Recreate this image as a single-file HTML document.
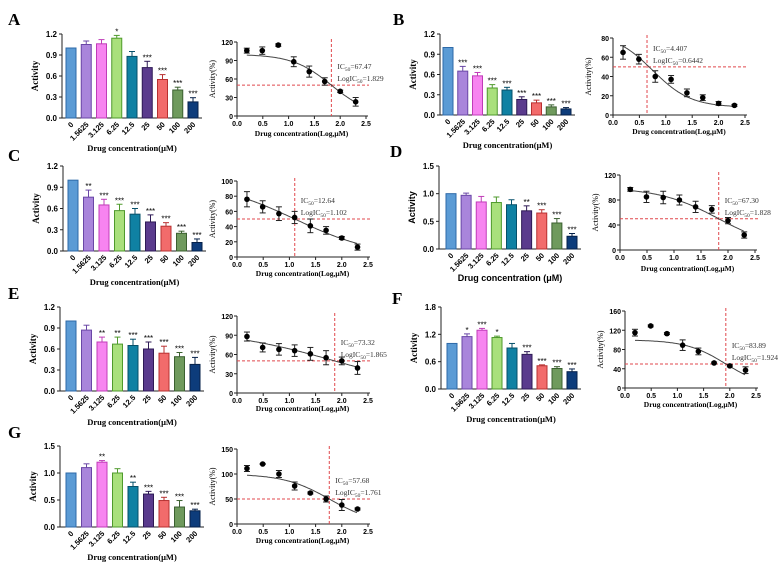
<!DOCTYPE html>
<html><head><meta charset="utf-8"><style>
html,body{margin:0;padding:0;background:#fff;}
svg{display:block;}
</style></head><body>
<svg id="s" width="779" height="570" viewBox="0 0 779 570" xmlns="http://www.w3.org/2000/svg">
<text x="8" y="25" font-family="Liberation Serif,serif" font-weight="bold" font-size="17">A</text>
<text x="393" y="25" font-family="Liberation Serif,serif" font-weight="bold" font-size="17">B</text>
<text x="8" y="161" font-family="Liberation Serif,serif" font-weight="bold" font-size="17">C</text>
<text x="390" y="157" font-family="Liberation Serif,serif" font-weight="bold" font-size="17">D</text>
<text x="8" y="299" font-family="Liberation Serif,serif" font-weight="bold" font-size="17">E</text>
<text x="392" y="304" font-family="Liberation Serif,serif" font-weight="bold" font-size="17">F</text>
<text x="8" y="438" font-family="Liberation Serif,serif" font-weight="bold" font-size="17">G</text>
</svg>
<script>
var S=document.getElementById('s'),out='';
var fills=['#5b9bd5','#a985db','#f784f0','#a9e07c','#0f81a3','#5a3b8d','#f26b6b','#6f9a5d','#0d3c7b'];
var strokes=['#2e6aa8','#6a47a6','#c03cb8','#4f9a2c','#06506a','#2e1a55','#b83030','#3b6030','#06214a'];
var cats=['0','1.5625','3.125','6.25','12.5','25','50','100','200'];
var LX=[0.19,0.49,0.80,1.10,1.40,1.70,2.0,2.3];
var SER='Liberation Serif,serif',SAN='Liberation Sans,sans-serif';
function fmt(v,st){var d=(st<1)?1:0;return v.toFixed(d);}
function P(p){
 var b=p.bar,c=p.cur;
 var sc=(b.y0-b.top)/b.max, tf=b.sans?SAN:SER;
 var xe=b.last+9;
 out+='<line x1="'+b.ax+'" y1="'+b.top+'" x2="'+b.ax+'" y2="'+b.y0+'" stroke="#222" stroke-width="1"/>';
 out+='<line x1="'+b.ax+'" y1="'+b.y0+'" x2="'+xe+'" y2="'+b.y0+'" stroke="#222" stroke-width="1"/>';
 for(var v=0;v<=b.max+1e-9;v+=b.st){var y=b.y0-v*sc;
  out+='<line x1="'+(b.ax-3)+'" y1="'+y+'" x2="'+b.ax+'" y2="'+y+'" stroke="#222"/>';
  out+='<text x="'+(b.ax-5)+'" y="'+(y+3)+'" text-anchor="end" font-family="'+SAN+'" font-weight="bold" font-size="8">'+fmt(v,b.st)+'</text>';}
 var sp=(b.last-b.first)/8;
 for(var i=0;i<9;i++){var cx=b.first+i*sp,h=b.v[i]*sc,y=b.y0-h,e=b.e[i]*sc;
  if(e>0){out+='<line x1="'+cx+'" y1="'+y+'" x2="'+cx+'" y2="'+(y-e)+'" stroke="'+strokes[i]+'"/><line x1="'+(cx-3)+'" y1="'+(y-e)+'" x2="'+(cx+3)+'" y2="'+(y-e)+'" stroke="'+strokes[i]+'"/>';}
  out+='<rect x="'+(cx-5)+'" y="'+y+'" width="10" height="'+h+'" fill="'+fills[i]+'" stroke="'+strokes[i]+'" stroke-width="1"/>';
  if(b.s[i])out+='<text x="'+cx+'" y="'+(y-e-1)+'" text-anchor="middle" font-family="'+SAN+'" font-size="8">'+b.s[i]+'</text>';
  out+='<text transform="translate('+(cx+3)+','+(b.y0+7)+') rotate(-45)" text-anchor="end" font-family="'+SAN+'" font-weight="bold" font-size="7.5">'+cats[i]+'</text>';}
 out+='<text transform="translate('+(b.ax-24)+','+((b.top+b.y0)/2)+') rotate(-90)" text-anchor="middle" font-family="'+tf+'" font-weight="bold" font-size="9">Activity</text>';
 out+='<text x="'+((b.ax+xe)/2)+'" y="'+b.ty+'" text-anchor="middle" font-family="'+tf+'" font-weight="bold" font-size="'+(b.sans?9:8.5)+'">'+(b.sans?'Drug concentration (μM)':'Drug concentration(μM)')+'</text>';
 var ys=(c.y0-c.yt)/c.max,xs=(c.x25-c.ax)/2.5;
 function X(x){return c.ax+x*xs;} function Y(v){return c.y0-v*ys;}
 out+='<line x1="'+c.ax+'" y1="'+c.yt+'" x2="'+c.ax+'" y2="'+c.y0+'" stroke="#222"/>';
 out+='<line x1="'+c.ax+'" y1="'+c.y0+'" x2="'+(c.x25+2)+'" y2="'+c.y0+'" stroke="#222"/>';
 for(var v=0;v<=c.max;v+=c.st){var y=Y(v);
  out+='<line x1="'+(c.ax-3)+'" y1="'+y+'" x2="'+c.ax+'" y2="'+y+'" stroke="#222"/>';
  out+='<text x="'+(c.ax-4)+'" y="'+(y+3)+'" text-anchor="end" font-family="'+SAN+'" font-weight="bold" font-size="7">'+v+'</text>';}
 for(var k=0;k<=5;k++){var x=X(k*0.5);
  out+='<line x1="'+x+'" y1="'+c.y0+'" x2="'+x+'" y2="'+(c.y0+3)+'" stroke="#222"/>';
  out+='<text x="'+x+'" y="'+(c.y0+10)+'" text-anchor="middle" font-family="'+SAN+'" font-weight="bold" font-size="7">'+(k*0.5).toFixed(1)+'</text>';}
 out+='<text transform="translate('+(c.ax-22)+','+((c.yt+c.y0)/2)+') rotate(-90)" text-anchor="middle" font-family="'+SER+'" font-size="8">Activity(%)</text>';
 out+='<text x="'+((c.ax+c.x25)/2)+'" y="'+(c.ty+3)+'" text-anchor="middle" font-family="'+SER+'" font-weight="bold" font-size="7.5">Drug concentration(Log,μM)</text>';
 var vx=X(c.ic),hy=Y(50);
 out+='<line x1="'+vx+'" y1="'+(c.yt-3)+'" x2="'+vx+'" y2="'+c.y0+'" stroke="#e0474c" stroke-dasharray="3,2"/>';
 out+='<line x1="'+c.ax+'" y1="'+hy+'" x2="'+(c.x25+3)+'" y2="'+hy+'" stroke="#e0474c" stroke-dasharray="3,2"/>';
 var d='';for(var x=0.19;x<=2.301;x+=0.02){var v=c.b+(c.t-c.b)/(1+Math.pow(10,(x-c.c)*c.h));d+=(d?'L':'M')+X(x).toFixed(1)+','+Y(v).toFixed(1);}
 out+='<path d="'+d+'" fill="none" stroke="#444" stroke-width="1"/>';
 for(var i=0;i<8;i++){var x=X(LX[i]),y=Y(c.p[i]),e=c.e[i]*ys;
  if(e>0)out+='<line x1="'+x+'" y1="'+(y-e)+'" x2="'+x+'" y2="'+(y+e)+'" stroke="#222"/><line x1="'+(x-3)+'" y1="'+(y-e)+'" x2="'+(x+3)+'" y2="'+(y-e)+'" stroke="#222"/><line x1="'+(x-3)+'" y1="'+(y+e)+'" x2="'+(x+3)+'" y2="'+(y+e)+'" stroke="#222"/>';
  out+='<circle cx="'+x+'" cy="'+y+'" r="2.8" fill="#000"/>';}
 var tx=vx+6;
 out+='<text x="'+tx+'" y="'+(hy-16)+'" font-family="'+SER+'" font-size="7.5" fill="#333">IC<tspan font-size="5.5" dy="2">50</tspan><tspan dy="-2">='+c.icv+'</tspan></text>';
 out+='<text x="'+tx+'" y="'+(hy-4)+'" font-family="'+SER+'" font-size="7.5" fill="#333">LogIC<tspan font-size="5.5" dy="2">50</tspan><tspan dy="-2">='+c.ic+'</tspan></text>';
}
var A='***';
P({bar:{ax:62,top:34,y0:118,max:1.2,st:0.3,first:71,last:193,ty:151,v:[1,1.05,1.06,1.14,0.88,0.72,0.55,0.40,0.23],e:[0,.05,.06,.04,.07,.09,.07,.04,.06],s:['','','','*','',A,A,A,A]},
 cur:{ax:237,yt:42,y0:116,max:120,st:30,x25:366,ty:133,p:[106,106,115,88,72,56,40,23],e:[4,6,2,8,9,6,2,7],ic:1.829,icv:'67.47',t:100,b:0,c:1.829,h:1.16}});
P({bar:{ax:440,top:34,y0:115,max:1.2,st:0.3,first:448,last:566,ty:148,v:[1,.65,.58,.40,.37,.23,.18,.12,.09],e:[0,.07,.05,.05,.04,.04,.04,.03,.02],s:['',A,A,A,A,A,A,A,A]},
 cur:{ax:613,yt:38,y0:115,max:80,st:20,x25:745,ty:131,p:[65,58,40,37,23,18,12,10],e:[7,5,6,4,4,3,2,1],ic:0.6442,icv:'4.407',t:85,b:8,c:0.75,h:1.2}});
P({bar:{ax:63,top:166,y0:251,max:1.2,st:0.3,first:73,last:197,ty:285,v:[1,.76,.65,.57,.52,.41,.35,.25,.12],e:[0,.1,.08,.09,.08,.1,.05,.03,.05],s:['','**',A,A,A,A,A,A,A]},
 cur:{ax:237,yt:181,y0:257,max:100,st:20,x25:368,ty:273,p:[76,66,57,52,41,35,25,13],e:[10,8,9,8,9,5,2,4],ic:1.102,icv:'12.64',t:100,b:0,c:1.102,h:0.556}});
P({bar:{ax:439,top:166,y0:249,max:1.5,st:0.5,first:451,last:572,ty:281,sans:1,v:[1,.97,.85,.84,.80,.69,.65,.47,.23],e:[0,.04,.1,.1,.09,.09,.06,.08,.05],s:['','','','','','**',A,A,A]},
 cur:{ax:620,yt:175,y0:250,max:120,st:40,x25:755,ty:268,p:[97,85,84,80,69,65,47,24],e:[3,9,10,8,9,6,5,5],ic:1.828,icv:'67.30',t:100,b:0,c:1.828,h:0.786}});
P({bar:{ax:60,top:307,y0:391,max:1.2,st:0.3,first:71,last:195,ty:425,v:[1,.87,.70,.67,.65,.60,.54,.49,.38],e:[0,.07,.07,.1,.09,.1,.1,.06,.1],s:['','','**','**',A,A,A,A,A]},
 cur:{ax:237,yt:316,y0:393,max:120,st:30,x25:368,ty:408,p:[88,71,68,66,61,55,50,39],e:[7,7,9,9,10,11,6,10],ic:1.865,icv:'73.32',t:100,b:0,c:1.865,h:0.395}});
P({bar:{ax:441,top:307,y0:389,max:1.8,st:0.6,first:452,last:572,ty:422,v:[1,1.15,1.29,1.13,.90,.76,.51,.45,.38],e:[0,.06,.04,.03,.1,.06,.02,.04,.06],s:['','*',A,'*','',A,A,A,A]},
 cur:{ax:625,yt:311,y0:388,max:160,st:40,x25:756,ty:404,p:[115,129,113,89,76,52,46,37],e:[7,2,2,11,7,2,2,7],ic:1.924,icv:'83.89',t:100,b:0,c:1.924,h:1.15}});
P({bar:{ax:60,top:446,y0:527,max:1.5,st:0.5,first:71,last:195,ty:560,v:[1,1.10,1.20,1.0,.75,.61,.49,.37,.30],e:[0,.07,.03,.08,.08,.05,.06,.12,.03],s:['','','**','','**',A,A,A,A]},
 cur:{ax:237,yt:449,y0:524,max:150,st:50,x25:368,ty:540,p:[111,120,100,76,62,50,38,30],e:[6,1,7,8,2,6,11,2],ic:1.761,icv:'57.68',t:100,b:0,c:1.761,h:1.01}});
S.insertAdjacentHTML('beforeend',out);
</script>
</body></html>
